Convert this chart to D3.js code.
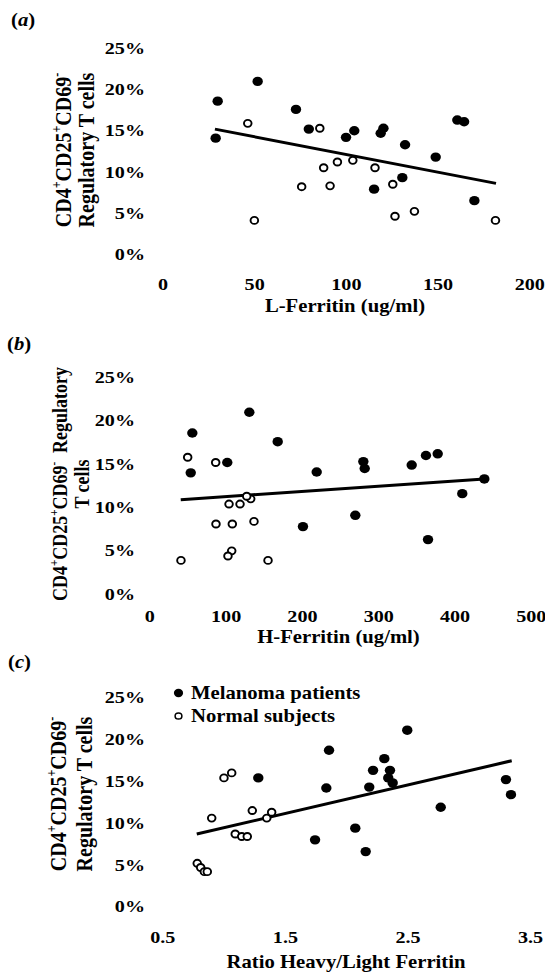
<!DOCTYPE html>
<html>
<head>
<meta charset="utf-8">
<script src="https://cdn.jsdelivr.net/npm/d3@7"></script>
<style>
  html, body { margin: 0; padding: 0; background: #fff; }
  svg { display: block; }
  text { font-family: "Liberation Serif", "Times New Roman", serif; font-weight: bold; fill: #000; }
</style>
</head>
<body>
<svg id="chart" width="545" height="972"></svg>
<script>
// ---------- DATA ----------
const yTickValues = [0, 5, 10, 15, 20, 25];

// Panel (a): L-Ferritin (ug/ml) vs % regulatory T cells
const aXTicks = [0, 50, 100, 150, 200];
const aMelanomaX = [30.1, 51.9, 72.8, 79.8, 29.0, 100.1, 104.6, 119.0, 120.5, 132.3, 149.0, 160.8, 164.5, 130.8, 115.4, 170.1];
const aMelanomaY = [18.5, 20.9, 17.5, 15.1, 14.0, 14.1, 14.9, 14.6, 15.2, 13.2, 11.7, 16.2, 16.0, 9.2, 7.8, 6.4];
const aNormalX = [46.5, 85.8, 95.4, 87.9, 75.9, 91.4, 50.1, 103.8, 115.9, 125.6, 137.4, 126.8, 181.6];
const aNormalY = [15.8, 15.2, 11.1, 10.4, 8.1, 8.2, 4.0, 11.3, 10.4, 8.4, 5.1, 4.5, 4.0];
const aTrendX = [28.6, 181.9];
const aTrendY = [15.1, 8.5];

// Panel (b): H-Ferritin (ug/ml)
const bXTicks = [0, 100, 200, 300, 400, 500];
const bMelanomaX = [56.4, 131.1, 168.3, 102.2, 54.3, 219.4, 201.4, 280.5, 282.3, 343.9, 362.6, 378.0, 439.1, 410.2, 270.0, 365.3];
const bMelanomaY = [18.5, 20.9, 17.5, 15.1, 13.9, 14.0, 7.7, 15.2, 14.4, 14.8, 15.9, 16.1, 13.2, 11.5, 9.0, 6.2];
const bNormalX = [50.3, 87.0, 104.5, 118.9, 132.9, 127.7, 87.4, 108.8, 137.2, 108.0, 103.1, 41.5, 155.6];
const bNormalY = [15.7, 15.1, 10.3, 10.3, 10.9, 11.2, 8.0, 8.0, 8.3, 4.9, 4.3, 3.8, 3.8];
const bTrendX = [41.2, 439.1];
const bTrendY = [10.8, 13.2];

// Panel (c): Ratio Heavy/Light Ferritin
const cXTicks = [0.5, 1.5, 2.5, 3.5];
const cMelanomaX = [1.860, 1.283, 1.838, 1.746, 2.498, 2.311, 2.219, 2.357, 2.343, 2.379, 2.188, 3.303, 3.344, 2.771, 2.074, 2.159];
const cMelanomaY = [18.6, 15.3, 14.1, 7.9, 21.0, 17.6, 16.2, 16.2, 15.3, 14.7, 14.2, 15.1, 13.3, 11.8, 9.3, 6.5];
const cNormalX = [1.003, 1.066, 0.903, 1.234, 1.352, 1.392, 1.095, 1.148, 1.193, 0.785, 0.813, 0.843, 0.867];
const cNormalY = [15.3, 15.9, 10.5, 11.4, 10.5, 11.2, 8.6, 8.3, 8.3, 5.1, 4.6, 4.1, 4.1];
const cTrendX = [0.781, 3.35];
const cTrendY = [8.6, 17.35];

const legendLabels = ["Melanoma patients", "Normal subjects"];

// ---------- DRAWING ----------
const SX = 1.15; // horizontal stretch of the original figure
const svg = d3.select("#chart");

function stretchedText(g, x, y, str, size, anchor) {
  return g.append("text")
    .attr("transform", `translate(${x},${y}) scale(${SX},1)`)
    .attr("text-anchor", anchor)
    .style("font-size", size + "px")
    .text(str);
}

function panelLabel(x, y, letter) {
  const t = svg.append("text")
    .attr("transform", `translate(${x},${y}) scale(${SX},1)`)
    .style("font-size", "18px");
  t.append("tspan").text("(");
  t.append("tspan").style("font-style", "italic").text(letter);
  t.append("tspan").text(")");
}

function yTitle(lines, cy, size) {
  lines.forEach(line => {
    const t = svg.append("text")
      .attr("transform", `translate(${line.x},${cy}) scale(${SX},1) rotate(-90)`)
      .attr("text-anchor", "middle")
      .style("font-size", size + "px");
    let shifted = false;
    line.parts.forEach(p => {
      const ts = t.append("tspan").text(p[0]);
      if (p[1]) {
        ts.style("font-size", Math.round(size * 0.62) + "px").attr("dy", shifted ? 0 : -size * 0.42);
        shifted = true;
      } else {
        if (shifted) { ts.attr("dy", size * 0.42); shifted = false; }
        if (p[2]) ts.attr("dx", p[2]);
      }
    });
  });
}

function drawPanel(cfg) {
  const x = d3.scaleLinear().domain(cfg.xDomain).range(cfg.xRange);
  const y = d3.scaleLinear().domain([0, 25]).range(cfg.yRange);
  const g = svg.append("g");

  const yAxis = g.append("g")
    .attr("transform", `translate(${cfg.yLabelRight},0)`)
    .call(d3.axisLeft(y).tickValues(yTickValues).tickFormat(d => d + "%").tickSize(0).tickPadding(0));
  yAxis.select(".domain").remove();
  yAxis.selectAll("text")
    .attr("x", 0).attr("dy", "0.34em")
    .attr("transform", `scale(${SX},1)`)
    .attr("text-anchor", "end")
    .style("font-family", '"Liberation Serif", "Times New Roman", serif')
    .style("font-weight", "bold")
    .style("font-size", "17.5px")
    .attr("fill", "#000");

  const xAxis = g.append("g")
    .attr("transform", `translate(0,${cfg.xLabelBaseline})`)
    .call(d3.axisBottom(x).tickValues(cfg.xTicks).tickFormat(cfg.xFormat).tickSize(0).tickPadding(0));
  xAxis.select(".domain").remove();
  xAxis.selectAll("text")
    .attr("y", 0).attr("dy", 0)
    .attr("transform", `scale(${SX},1)`)
    .attr("text-anchor", "middle")
    .style("font-family", '"Liberation Serif", "Times New Roman", serif')
    .style("font-weight", "bold")
    .style("font-size", "17.5px")
    .attr("fill", "#000");

  const trend = cfg.trendX.map((v, i) => [v, cfg.trendY[i]]);
  g.append("path")
    .datum(trend)
    .attr("d", d3.line().x(d => x(d[0])).y(d => y(d[1])))
    .attr("fill", "none")
    .attr("stroke", "#000")
    .attr("stroke-width", 3);

  const mel = cfg.melX.map((v, i) => [v, cfg.melY[i]]);
  g.append("g").selectAll("ellipse").data(mel).join("ellipse")
    .attr("cx", d => x(d[0])).attr("cy", d => y(d[1]))
    .attr("rx", 5.2).attr("ry", 4.7)
    .attr("fill", "#000");

  const nor = cfg.norX.map((v, i) => [v, cfg.norY[i]]);
  g.append("g").selectAll("ellipse").data(nor).join("ellipse")
    .attr("cx", d => x(d[0])).attr("cy", d => y(d[1]))
    .attr("rx", 3.8).attr("ry", 3.5)
    .attr("fill", "#fff")
    .attr("stroke", "#000")
    .attr("stroke-width", 1.9);

  stretchedText(svg, cfg.xTitlePos[0], cfg.xTitlePos[1], cfg.xTitle, 18, "middle");
}

// Panel (a)
panelLabel(11, 26, "a");
drawPanel({
  xDomain: [0, 200], xRange: [162.5, 529.2], yRange: [253.3, 47.7],
  yLabelRight: 145, xLabelBaseline: 290,
  xTicks: aXTicks, xFormat: d3.format("d"),
  melX: aMelanomaX, melY: aMelanomaY, norX: aNormalX, norY: aNormalY,
  trendX: aTrendX, trendY: aTrendY,
  xTitle: "L-Ferritin (ug/ml)", xTitlePos: [345, 312]
});
yTitle([
  { x: 71, parts: [["CD4"], ["+", 1], ["CD25"], ["+", 1], ["CD69"], ["-", 1]] },
  { x: 93.5, parts: [["Regulatory T cells"]] }
], 150, 20);

// Panel (b)
panelLabel(7, 350, "b");
drawPanel({
  xDomain: [0, 500], xRange: [149.3, 530.8], yRange: [593.3, 376.7],
  yLabelRight: 135, xLabelBaseline: 621.5,
  xTicks: bXTicks, xFormat: d3.format("d"),
  melX: bMelanomaX, melY: bMelanomaY, norX: bNormalX, norY: bNormalY,
  trendX: bTrendX, trendY: bTrendY,
  xTitle: "H-Ferritin (ug/ml)", xTitlePos: [338.5, 643]
});
yTitle([
  { x: 66.5, parts: [["CD4"], ["+", 1], ["CD25"], ["+", 1], ["CD69"], ["-", 1], ["Regulatory", 0, 9]] },
  { x: 88.5, parts: [["T cells"]] }
], 484, 18);

// Panel (c)
panelLabel(8, 668, "c");
drawPanel({
  xDomain: [0.5, 3.5], xRange: [162.3, 530.1], yRange: [906, 696.7],
  yLabelRight: 145, xLabelBaseline: 943,
  xTicks: cXTicks, xFormat: d3.format(".1f"),
  melX: cMelanomaX, melY: cMelanomaY, norX: cNormalX, norY: cNormalY,
  trendX: cTrendX, trendY: cTrendY,
  xTitle: "Ratio Heavy/Light Ferritin", xTitlePos: [346, 968]
});
yTitle([
  { x: 66, parts: [["CD4"], ["+", 1], ["CD25"], ["+", 1], ["CD69"], ["-", 1]] },
  { x: 91.5, parts: [["Regulatory T cells"]] }
], 794, 20);

// Legend (panel c)
const legend = svg.append("g");
legend.append("ellipse").attr("cx", 178.5).attr("cy", 693).attr("rx", 4.6).attr("ry", 4.2).attr("fill", "#000");
legend.append("ellipse").attr("cx", 178.5).attr("cy", 716).attr("rx", 3.4).attr("ry", 3.1)
  .attr("fill", "#fff").attr("stroke", "#000").attr("stroke-width", 1.5);
stretchedText(legend, 191, 698.5, legendLabels[0], 18, "start");
stretchedText(legend, 191, 721.5, legendLabels[1], 18, "start");
</script>
</body>
</html>
